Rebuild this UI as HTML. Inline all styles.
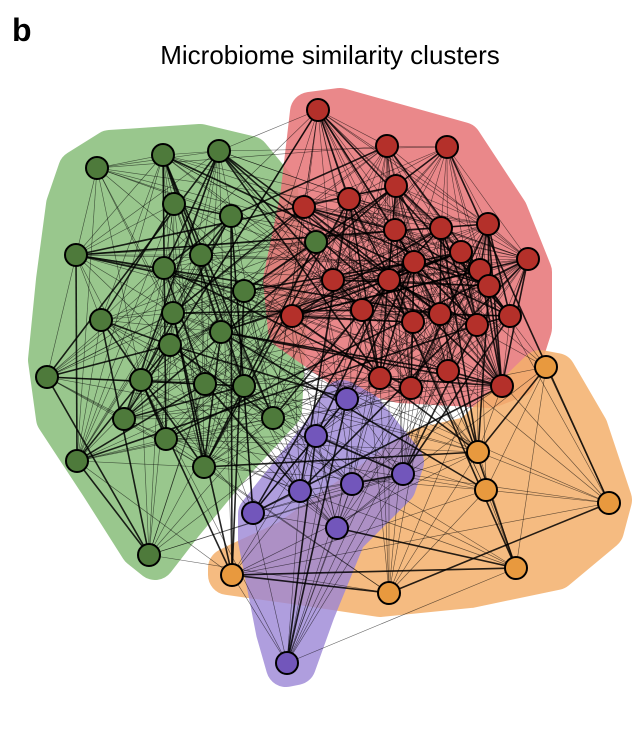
<!DOCTYPE html>
<html><head><meta charset="utf-8"><style>
html,body{margin:0;padding:0;background:#fff;}
svg{display:block}
</style></head><body>
<svg id="s" width="644" height="744" viewBox="0 0 644 744" xmlns="http://www.w3.org/2000/svg">
<text x="12" y="41" font-family="Liberation Sans, sans-serif" font-weight="bold" font-size="32">b</text>
<text x="330" y="64" text-anchor="middle" font-family="Liberation Sans, sans-serif" font-size="26">Microbiome similarity clusters</text>
<g stroke-linejoin="round" stroke-width="40">
<g opacity="0.88"><polygon fill="#8cc07e" stroke="#8cc07e" points="78,170 110,150 200,144 250,156 278,190 288,300 282,410 236,460 182,525 155,560 140,548 100,485 56,418 48,360 56,280 66,205"/></g>
<g opacity="0.88"><polygon fill="#e8787a" stroke="#e8787a" points="310,112 340,108 462,142 508,212 532,272 532,328 516,378 490,388 400,383 342,368 288,330 283,280 300,198"/></g>
<g opacity="0.85"><polygon fill="#f4b06c" stroke="#f4b06c" points="240,562 288,540 420,448 472,436 540,370 556,373 588,428 612,500 604,530 556,570 470,588 380,597 300,585 228,575 228,568"/></g>
<g opacity="0.8"><polygon fill="#9c86d6" stroke="#9c86d6" points="342,400 364,412 404,462 396,486 346,536 315,612 296,665 286,667 276,632 258,540 258,514 296,466 326,428"/></g>
</g>
<g id="edges" stroke="#000" fill="none"></g>
<g id="nodes" stroke="#000" stroke-width="2"></g>
</svg>
<script>
var G=[[97,168],[163,155],[219,151],[174,204],[231,216],[76,255],[164,268],[201,255],[244,291],[101,320],[173,313],[221,332],[170,345],[141,380],[205,384],[244,386],[47,377],[124,419],[166,439],[273,418],[77,461],[204,467],[149,555],[316,242]];
var R=[[318,110],[387,146],[447,147],[396,186],[304,207],[349,199],[395,230],[441,228],[488,224],[333,280],[389,280],[414,262],[461,252],[528,259],[480,270],[489,286],[292,316],[362,310],[413,322],[440,314],[477,325],[510,316],[380,378],[411,388],[448,371],[502,386]];
var O=[[546,367],[478,452],[486,490],[609,503],[516,568],[389,593],[232,575]];
var P=[[347,399],[316,436],[352,484],[403,474],[300,491],[253,513],[337,528],[287,663]];
var all=[];
G.forEach(function(p){all.push([p,0])});R.forEach(function(p){all.push([p,1])});
O.forEach(function(p){all.push([p,2])});P.forEach(function(p){all.push([p,3])});
var seed=7;function rnd(){seed=(seed*16807)%2147483647;return seed/2147483647;}
var e=document.getElementById('edges'),h='';
for(var i=0;i<all.length;i++)for(var j=i+1;j<all.length;j++){
 var a=all[i],b=all[j],pr;
 if(a[1]==b[1])pr=a[1]==2||a[1]==3?0.9:(a[1]==1?0.75:0.6);else pr=0.22;
 var d=Math.hypot(a[0][0]-b[0][0],a[0][1]-b[0][1]);
 if(d>330)pr*=0.3;
 if(rnd()<pr){var w=rnd()<0.2?1.6:0.6;
 h+='<line x1="'+a[0][0]+'" y1="'+a[0][1]+'" x2="'+b[0][0]+'" y2="'+b[0][1]+'" stroke-width="'+w+'" stroke-opacity="'+(w>1?0.85:0.6)+'"/>';}
}
e.innerHTML=h;
var cols=['#4e7a3b','#b4302a','#e8993e','#7256bb'],n='';
all.forEach(function(a){n+='<circle cx="'+a[0][0]+'" cy="'+a[0][1]+'" r="11" fill="'+cols[a[1]]+'"/>';});
document.getElementById('nodes').innerHTML=n;
</script>
</body></html>
